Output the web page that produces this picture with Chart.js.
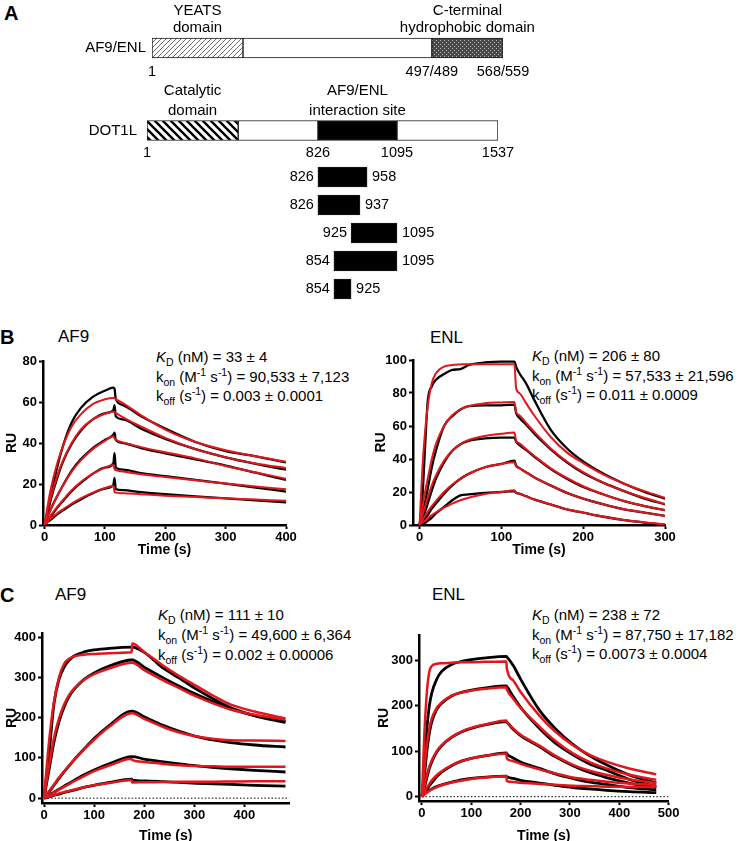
<!DOCTYPE html>
<html>
<head>
<meta charset="utf-8">
<script src="https://cdn.jsdelivr.net/npm/chart.js@4.4.1/dist/chart.umd.min.js"></script>
<style>
  body { margin: 0; width: 745px; height: 841px; position: relative; overflow: hidden; background: #fff;
         font-family: "Liberation Sans", Arial, sans-serif; color: #000; }
  canvas { position: absolute; }
  .t { position: absolute; white-space: nowrap; line-height: 20px; font-size: 15px; }
  .t sub, .t sup { font-size: 10.5px; line-height: 0; }
  .big { font-size: 17px; }
  .lt { font-size: 20px; font-weight: bold; }
</style>
</head>
<body>

<div class="t lt" style="left:4px;top:3px">A</div>
<div class="t lt" style="left:0;top:327px">B</div>
<div class="t lt" style="left:0;top:585px">C</div>

<div class="t big" style="left:58px;top:327px">AF9</div>
<div class="t big" style="left:430px;top:328px">ENL</div>
<div class="t big" style="left:55px;top:585px">AF9</div>
<div class="t big" style="left:432px;top:585px">ENL</div>

<div class="t" style="left:156px;top:347px"><i>K</i><sub>D</sub> (nM) = 33 ± 4</div>
<div class="t" style="left:156px;top:367px">k<sub>on</sub> (M<sup>-1</sup> s<sup>-1</sup>) = 90,533 ± 7,123</div>
<div class="t" style="left:156px;top:386px">k<sub>off</sub> (s<sup>-1</sup>) = 0.003 ± 0.0001</div>

<div class="t" style="left:532px;top:346px"><i>K</i><sub>D</sub> (nM) = 206 ± 80</div>
<div class="t" style="left:532px;top:366px">k<sub>on</sub> (M<sup>-1</sup> s<sup>-1</sup>) = 57,533 ± 21,596</div>
<div class="t" style="left:532px;top:385px">k<sub>off</sub> (s<sup>-1</sup>) = 0.011 ± 0.0009</div>

<div class="t" style="left:158px;top:605px"><i>K</i><sub>D</sub> (nM) = 111 ± 10</div>
<div class="t" style="left:158px;top:625px">k<sub>on</sub> (M<sup>-1</sup> s<sup>-1</sup>) = 49,600 ± 6,364</div>
<div class="t" style="left:158px;top:645px">k<sub>off</sub> (s<sup>-1</sup>) = 0.002 ± 0.00006</div>

<div class="t" style="left:532px;top:605px"><i>K</i><sub>D</sub> (nM) = 238 ± 72</div>
<div class="t" style="left:532px;top:625px">k<sub>on</sub> (M<sup>-1</sup> s<sup>-1</sup>) = 87,750 ± 17,182</div>
<div class="t" style="left:532px;top:644px">k<sub>off</sub> (s<sup>-1</sup>) = 0.0073 ± 0.0004</div>

<canvas id="a1" width="745" height="90" style="left:0;top:0"></canvas>
<canvas id="a2" width="745" height="90" style="left:0;top:78px"></canvas>
<canvas id="a3" width="745" height="150" style="left:0;top:160px"></canvas>
<canvas id="bAf9" width="300" height="227" style="left:0;top:335px"></canvas>
<canvas id="bEnl" width="311" height="227" style="left:369px;top:335px"></canvas>
<canvas id="cAf9" width="310" height="233" style="left:0;top:612px"></canvas>
<canvas id="cEnl" width="311" height="233" style="left:372px;top:612px"></canvas>

<script>
// ---- panel A: domain maps ----
// the schematic is not drawn to scale, so box edges are read off where they sit on each ruler;
// the residue numbers printed under them are kept as label text
const af9Segments = [[1, 148], [148, 453], [453, 568]];
const af9DomainNames = [['YEATS', 'domain'], null, ['C-terminal', 'hydrophobic domain']];
const af9Marks = [1, 453, 568];
const af9MarkLabels = ['1', '497/489', '568/559'];

const dot1lSegments = [[1, 400], [400, 749], [749, 1095], [1095, 1537]];
const dot1lDomainNames = [['Catalytic', 'domain'], null, ['AF9/ENL', 'interaction site'], null];
const dot1lMarks = [1, 749, 1095, 1537];
const dot1lMarkLabels = ['1', '826', '1095', '1537'];

const fragStart = [749, 749, 894, 819, 819];
const fragEnd = [964, 933, 1095, 1095, 894];
const fragStartLabels = ['826', '826', '925', '854', '854'];
const fragEndLabels = ['958', '937', '1095', '1095', '925'];

// ---- panel B, AF9 ----
const bAf9Time = [0, 5, 10, 20, 30, 45, 60, 80, 100, 114, 116, 118, 130, 160, 200, 250, 300, 350, 400];
const bAf9Fit1 = [0, 9, 17, 29, 38, 48, 54, 59, 61.3, 62, 61.9, 61.4, 59.5, 53.5, 46.5, 40.5, 36.5, 33.5, 30.8];
const bAf9Fit2 = [0, 7, 13, 23, 31, 40, 46.5, 51.5, 54.3, 55.3, 55.1, 54.7, 52.5, 48, 42.5, 37, 33, 30, 27.8];
const bAf9Fit3 = [0, 4, 7.5, 13.5, 19, 26, 31.5, 37, 41, 43.3, 42.3, 41.6, 40.3, 38, 35.5, 32.5, 28.8, 25.6, 22.6];
const bAf9Fit4 = [0, 2.5, 4.5, 8.5, 12, 17, 21, 25, 28, 29.3, 27.2, 26.8, 26.1, 24.8, 23.4, 21.8, 20.2, 18.8, 17.4];
const bAf9Fit5 = [0, 1.5, 3, 5.5, 7.5, 10.5, 13, 15.8, 18, 19.2, 16.2, 15.8, 15.5, 15, 14.3, 13.6, 13, 12.4, 11.8];
const bAf9Raw1 = [0, 6, 13, 27, 38, 50, 57, 62.5, 65.5, 67, 66.5, 61.5, 58.5, 53, 47, 40.5, 36, 33.5, 30.5];
const bAf9Raw2 = [0, 6, 12, 22, 30.5, 39.5, 46, 51.5, 54.5, 56, 58.5, 53, 51.5, 47, 42, 37, 33, 29.8, 27];
const bAf9Raw3 = [0, 4, 7.5, 13.5, 19, 26.5, 32, 37.5, 41.5, 44, 45, 41.5, 40, 37.5, 35, 32, 29, 25.5, 22];
const bAf9Raw4 = [0, 2, 4, 8, 11.5, 16.5, 20.5, 25, 28, 30, 35, 28, 27, 25.3, 23.8, 22, 20.2, 18.3, 16.3];
const bAf9Raw5 = [0, 1.5, 2.5, 5, 7, 10, 12.5, 15.5, 17.8, 19.5, 23, 17.5, 17, 16, 15, 14, 13, 12, 11];
const bAf9XTicks = [0, 100, 200, 300, 400];
const bAf9YTicks = [0, 20, 40, 60, 80];

// ---- panel B, ENL ----
const bEnlTime = [0, 3, 6, 10, 15, 20, 30, 40, 50, 60, 80, 100, 116, 118, 122, 130, 140, 160, 180, 200, 225, 250, 275, 300];
const bEnlFit1 = [0, 30, 52, 72, 86, 92, 96, 97, 97.3, 97.5, 97.5, 97.5, 97.5, 83, 80, 74, 66.5, 53.5, 44, 37.5, 30.5, 25, 20.5, 16.5];
const bEnlFit2 = [0, 9, 18, 28, 40, 49, 60, 66.5, 70, 72, 73.8, 74.3, 74.6, 68.5, 66.5, 62, 56.5, 46.5, 38.5, 32, 25.5, 20.5, 16.5, 12.7];
const bEnlFit3 = [0, 5, 10, 16.5, 24, 30, 39, 45, 49, 51.5, 54, 55.3, 56, 51, 49.5, 46, 42, 34.5, 28.5, 23.5, 18.5, 14.5, 11.5, 9];
const bEnlFit4 = [0, 2.5, 5, 8, 11.5, 14.5, 20, 24.5, 28, 31, 35, 37, 38, 35.5, 34.5, 32, 29, 24, 19.5, 16, 12.5, 9.5, 7.5, 5.5];
const bEnlFit5 = [0, 1.5, 2.5, 4, 6, 7.5, 10.5, 13, 15, 16.5, 18.8, 20, 21, 19.5, 19, 17.5, 15.5, 12.5, 9.5, 7.5, 5, 3, 1.5, 0.5];
const bEnlRaw1 = [0, 12, 40, 75, 84, 88, 91.5, 94, 94.5, 97, 98.5, 99, 99, 96, 92, 86, 76, 58, 46.5, 38.5, 31, 25, 20, 16];
const bEnlRaw2 = [0, 5, 12, 22, 35, 45, 60, 66, 70, 72, 72.5, 72.5, 73, 68, 65, 61, 55.5, 46, 38, 31.5, 25.5, 20.5, 16, 12.5];
const bEnlRaw3 = [0, 3, 7, 13, 21, 28, 38, 45, 49, 51, 52.5, 53, 53, 50.5, 48.5, 45.5, 41.5, 34, 28, 23, 18.5, 14.5, 11.5, 9];
const bEnlRaw4 = [0, 1.5, 3.5, 6, 10, 13, 19, 24, 28, 31, 35, 37, 39, 36, 34.5, 32, 29, 24, 19.5, 16, 12.5, 9.5, 7.5, 5.5];
const bEnlRaw5 = [0, 0, 1, 2.5, 4.5, 7, 11, 15, 18, 18.5, 19.5, 20, 20.5, 19.5, 19, 17.5, 15.5, 12.5, 9.5, 7.5, 5, 3, 1.5, 0];
const bEnlXTicks = [0, 100, 200, 300];
const bEnlYTicks = [0, 20, 40, 60, 80, 100];

// ---- panel C, AF9 ----
const cAf9Time = [0, 10, 20, 30, 40, 50, 60, 80, 100, 130, 175, 176, 200, 239, 270, 305, 340, 372, 420, 482];
const cAf9Fit1 = [0, 140, 240, 300, 333, 346, 352, 356, 358, 360, 362, 384, 363, 328, 303, 278, 253, 233, 215, 198];
const cAf9Fit2 = [0, 80, 150, 198, 232, 256, 272, 294, 308, 322, 336, 336, 318, 292, 273, 252, 234, 220, 207, 195];
const cAf9Fit3 = [0, 17, 34, 51, 66, 81, 95, 121, 145, 177, 211, 211, 197, 176, 163, 153, 147, 144, 143, 142];
const cAf9Fit4 = [0, 7, 14, 21, 28, 35, 42, 55, 67, 81, 98, 95, 90, 85, 82, 80, 79, 78, 78, 78];
const cAf9Fit5 = [0, 4, 8, 11.5, 15, 18, 21, 27, 32, 37.5, 45, 39, 39.5, 40, 40.5, 41, 41, 41.5, 42, 42];
const cAf9Raw1 = [0, 110, 235, 295, 325, 342, 353, 363, 368, 372, 375, 375, 362, 322, 298, 270, 245, 225, 205, 188];
const cAf9Raw2 = [0, 70, 140, 190, 226, 252, 270, 295, 311, 328, 343, 343, 325, 298, 278, 257, 238, 222, 205, 190];
const cAf9Raw3 = [0, 15, 32, 49, 65, 80, 95, 122, 148, 180, 216, 216, 202, 180, 166, 153, 144, 138, 132, 127];
const cAf9Raw4 = [0, 7, 15, 22, 30, 37, 44, 58, 70, 85, 103, 103, 97, 90, 85, 80, 76, 73, 69, 65];
const cAf9Raw5 = [0, 3, 7, 10, 14, 17, 20, 27, 32, 39, 47, 45, 43, 41, 39, 37, 35.5, 34, 32, 30];
const cAf9XTicks = [0, 100, 200, 300, 400];
const cAf9YTicks = [0, 100, 200, 300, 400];

// ---- panel C, ENL ----
const cEnlTime = [0, 5, 10, 15, 20, 30, 40, 60, 80, 100, 130, 171, 172, 185, 200, 238, 270, 306, 340, 374, 420, 475];
const cEnlFit1 = [0, 140, 230, 275, 287, 292, 293, 294, 295, 295, 296, 297, 282, 255, 230, 178, 143, 113, 92, 77, 62, 49];
const cEnlFit2 = [0, 60, 115, 150, 172, 195, 207, 222, 229, 233, 237, 240, 236, 215, 195, 154, 123, 95, 76, 62, 48, 37];
const cEnlFit3 = [0, 25, 48, 66, 80, 100, 113, 131, 143, 151, 159, 167, 164, 150, 136, 112, 90, 70, 57, 48, 38, 30];
const cEnlFit4 = [0, 10, 20, 28, 36, 47, 56, 69, 78, 84, 90, 95, 84, 78, 72, 60, 51, 42, 37, 33, 29, 26];
const cEnlFit5 = [0, 5, 9, 13, 16, 21, 25, 31, 35, 39, 42, 45, 34, 32, 30.5, 28, 26, 24, 23, 22, 21.5, 21];
const cEnlRaw1 = [0, 60, 150, 200, 228, 258, 275, 290, 297, 301, 305, 308, 307, 288, 258, 190, 150, 115, 90, 70, 48, 30];
const cEnlRaw2 = [0, 45, 100, 140, 165, 192, 205, 221, 229, 234, 239, 243, 242, 220, 196, 150, 118, 92, 72, 58, 38, 22];
const cEnlRaw3 = [0, 20, 42, 62, 77, 98, 112, 130, 142, 150, 158, 165, 164, 148, 134, 110, 88, 68, 53, 42, 30, 20];
const cEnlRaw4 = [0, 8, 16, 24, 31, 44, 54, 68, 78, 84, 90, 96, 94, 85, 76, 62, 50, 40, 32, 27, 20, 15];
const cEnlRaw5 = [0, 6, 10, 14, 17, 22, 26, 32, 37, 40, 43, 45, 44, 40, 36, 30, 25, 20, 17, 14, 11, 9];
const cEnlXTicks = [0, 100, 200, 300, 400, 500];
const cEnlYTicks = [0, 100, 200, 300];

const FIT_RED = '#e3161c';
const plain = '"Liberation Sans", Arial, sans-serif';
Chart.defaults.font.family = plain;

// fill patterns for the domain boxes
function pattern(id, size, paint) {
  const tile = document.createElement('canvas');
  tile.width = size; tile.height = size;
  const g = tile.getContext('2d');
  paint(g, size);
  return document.getElementById(id).getContext('2d').createPattern(tile, 'repeat');
}
function fineHatch(id) {
  return pattern(id, 5, (g, s) => {
    g.fillStyle = '#fff'; g.fillRect(0, 0, s, s);
    g.strokeStyle = '#6a6a6a'; g.lineWidth = 1;
    g.beginPath();
    g.moveTo(0, s); g.lineTo(s, 0);
    g.moveTo(-1, 1); g.lineTo(1, -1);
    g.moveTo(s - 1, s + 1); g.lineTo(s + 1, s - 1);
    g.stroke();
  });
}
function boldHatch(id) {
  return pattern(id, 8, (g, s) => {
    g.fillStyle = '#fff'; g.fillRect(0, 0, s, s);
    g.strokeStyle = '#000'; g.lineWidth = 2.4;
    g.beginPath();
    g.moveTo(0, 0); g.lineTo(s, s);
    g.moveTo(-3, s - 3); g.lineTo(3, s + 3);
    g.moveTo(s - 3, -3); g.lineTo(s + 3, 3);
    g.stroke();
  });
}
function dotted(id) {
  return pattern(id, 4, (g, s) => {
    g.fillStyle = '#4a4a4a'; g.fillRect(0, 0, s, s);
    g.fillStyle = '#b5b5b5';
    g.fillRect(0, 0, 1, 1); g.fillRect(2, 2, 1, 1);
  });
}

function segBar(seg, fill) {
  return {
    data: [seg], backgroundColor: fill, borderColor: '#1a1a1a', borderWidth: 1,
    borderSkipped: false, barThickness: 20, grouped: false
  };
}

function mapLabels(rowLabel, rowGap, segs, names, nameUp, marks, markLabels, markDown) {
  return {
    id: 'mapLabels',
    afterDatasetsDraw(chart) {
      const ctx = chart.ctx, x = chart.scales.x, y = chart.scales.y;
      const cy = y.getPixelForValue(0);
      ctx.save();
      ctx.fillStyle = '#000';
      ctx.font = '15px ' + plain;
      ctx.textBaseline = 'middle';
      ctx.textAlign = 'right';
      ctx.fillText(rowLabel, chart.chartArea.left - rowGap, cy);
      ctx.textAlign = 'center';
      names.forEach((n, i) => {
        if (!n) return;
        const mid = (x.getPixelForValue(segs[i][0]) + x.getPixelForValue(segs[i][1])) / 2;
        ctx.fillText(n[0], mid, cy - 10 - nameUp[0]);
        ctx.fillText(n[1], mid, cy - 10 - nameUp[1]);
      });
      ctx.font = '14.5px ' + plain;
      marks.forEach((m, i) => {
        ctx.fillText(markLabels[i], x.getPixelForValue(m), cy + 10 + markDown);
      });
      ctx.restore();
    }
  };
}

function mapOptions(xMax, pad) {
  return {
    responsive: false, animation: false, indexAxis: 'y',
    layout: { padding: pad },
    plugins: { legend: { display: false }, tooltip: { enabled: false } },
    scales: {
      x: { type: 'linear', min: 1, max: xMax, display: false },
      y: { display: false }
    }
  };
}

new Chart(document.getElementById('a1'), {
  type: 'bar',
  data: {
    labels: ['AF9/ENL'],
    datasets: [
      segBar(af9Segments[0], fineHatch('a1')),
      segBar(af9Segments[1], '#fff'),
      segBar(af9Segments[2], dotted('a1'))
    ]
  },
  options: mapOptions(568, { left: 152, right: 242, top: 28, bottom: 22 }),
  plugins: [mapLabels('AF9/ENL', 6, af9Segments, af9DomainNames, [27, 10], af9Marks, af9MarkLabels, 14)]
});

new Chart(document.getElementById('a2'), {
  type: 'bar',
  data: {
    labels: ['DOT1L'],
    datasets: [
      segBar(dot1lSegments[0], boldHatch('a2')),
      segBar(dot1lSegments[1], '#fff'),
      segBar(dot1lSegments[2], '#000'),
      segBar(dot1lSegments[3], '#fff')
    ]
  },
  options: mapOptions(1537, { left: 147, right: 247, top: 33, bottom: 18 }),
  plugins: [mapLabels('DOT1L', 10, dot1lSegments, dot1lDomainNames, [30, 10], dot1lMarks, dot1lMarkLabels, 12.5)]
});

new Chart(document.getElementById('a3'), {
  type: 'bar',
  data: {
    labels: fragStartLabels.map((s, i) => s + '-' + fragEndLabels[i]),
    datasets: [{
      data: fragStart.map((s, i) => [s, fragEnd[i]]),
      backgroundColor: '#000', borderColor: '#1a1a1a', borderWidth: 1,
      borderSkipped: false, barThickness: 20
    }]
  },
  options: mapOptions(1537, { left: 147, right: 247, top: 3, bottom: 7 }),
  plugins: [{
    id: 'fragLabels',
    afterDatasetsDraw(chart) {
      const ctx = chart.ctx, x = chart.scales.x, y = chart.scales.y;
      ctx.save();
      ctx.fillStyle = '#000';
      ctx.font = '14.5px ' + plain;
      ctx.textBaseline = 'middle';
      fragStart.forEach((s, i) => {
        const cy = y.getPixelForValue(i);
        ctx.textAlign = 'right';
        ctx.fillText(fragStartLabels[i], x.getPixelForValue(s) - 4, cy);
        ctx.textAlign = 'left';
        ctx.fillText(fragEndLabels[i], x.getPixelForValue(fragEnd[i]) + 5, cy);
      });
      ctx.restore();
    }
  }]
});

// ---- SPR sensorgrams ----
function pts(times, vals) {
  return times.map((t, i) => ({ x: t, y: vals[i] }));
}

function spr(id, box, times, fits, raws, xr, yr, xTicks, yTicks, lw, zeroLine) {
  const datasets = [];
  fits.forEach(f => datasets.push({ data: pts(times, f), borderColor: FIT_RED, borderWidth: lw }));
  raws.forEach(r => datasets.push({ data: pts(times, r), borderColor: '#000', borderWidth: lw + 0.3 }));
  if (zeroLine) {
    datasets.push({
      data: [{ x: 0, y: 0 }, { x: xr[1], y: 0 }],
      borderColor: '#000', borderWidth: 1, borderDash: [1.5, 2], cubicInterpolationMode: 'default'
    });
  }
  const axisCommon = {
    grid: { drawOnChartArea: false, drawTicks: true, tickLength: 4, tickWidth: 2, tickColor: '#000' },
    border: { display: true, color: '#000', width: 2.5 },
    ticks: { color: '#000', font: { family: plain, size: 13, weight: 'bold' }, maxRotation: 0, autoSkip: false }
  };
  new Chart(document.getElementById(id), {
    type: 'line',
    data: { datasets },
    options: {
      responsive: false, animation: false,
      layout: { padding: { top: box.areaT - box.top, right: box.left + box.w - box.areaR, left: 0, bottom: 0 } },
      plugins: { legend: { display: false }, tooltip: { enabled: false } },
      elements: { point: { radius: 0 }, line: { cubicInterpolationMode: 'monotone', tension: 0.4 } },
      scales: {
        x: Object.assign({}, axisCommon, {
          type: 'linear', min: xr[0], max: xr[1],
          ticks: Object.assign({}, axisCommon.ticks, { padding: 1 }),
          afterBuildTicks: s => { s.ticks = xTicks.map(v => ({ value: v })); },
          afterFit: s => { s.height = box.top + box.h - box.areaB; },
          title: { display: true, text: 'Time (s)', color: '#000',
                   font: { family: plain, size: 14, weight: 'bold' }, padding: { top: 0, bottom: box.titlePad } }
        }),
        y: Object.assign({}, axisCommon, {
          type: 'linear', min: yr[0], max: yr[1],
          ticks: Object.assign({}, axisCommon.ticks, { padding: 2 }),
          afterBuildTicks: s => { s.ticks = yTicks.map(v => ({ value: v })); },
          afterFit: s => { s.width = box.areaL - box.left; },
          title: { display: true, text: 'RU', color: '#000',
                   font: { family: plain, size: 14, weight: 'bold' }, padding: { top: 4, bottom: 0 } }
        })
      }
    }
  });
}

spr('bAf9', { left: 0, top: 335, w: 300, h: 227, areaL: 43, areaR: 286, areaT: 361, areaB: 525, titlePad: 3 },
    bAf9Time, [bAf9Fit1, bAf9Fit2, bAf9Fit3, bAf9Fit4, bAf9Fit5],
    [bAf9Raw1, bAf9Raw2, bAf9Raw3, bAf9Raw4, bAf9Raw5],
    [-2.5, 400], [0, 80], bAf9XTicks, bAf9YTicks, 2, false);

spr('bEnl', { left: 369, top: 335, w: 311, h: 227, areaL: 413, areaR: 665, areaT: 360, areaB: 525, titlePad: 3 },
    bEnlTime, [bEnlFit1, bEnlFit2, bEnlFit3, bEnlFit4, bEnlFit5],
    [bEnlRaw1, bEnlRaw2, bEnlRaw3, bEnlRaw4, bEnlRaw5],
    [-8, 300], [0, 100], bEnlXTicks, bEnlYTicks, 2, false);

spr('cAf9', { left: 0, top: 612, w: 310, h: 233, areaL: 42, areaR: 289.5, areaT: 633, areaB: 803, titlePad: 0 },
    cAf9Time, [cAf9Fit1, cAf9Fit2, cAf9Fit3, cAf9Fit4, cAf9Fit5],
    [cAf9Raw1, cAf9Raw2, cAf9Raw3, cAf9Raw4, cAf9Raw5],
    [-4, 490], [-12, 410], cAf9XTicks, cAf9YTicks, 2.5, true);

spr('cEnl', { left: 372, top: 612, w: 311, h: 233, areaL: 419, areaR: 668.6, areaT: 635, areaB: 801, titlePad: 0 },
    cEnlTime, [cEnlFit1, cEnlFit2, cEnlFit3, cEnlFit4, cEnlFit5],
    [cEnlRaw1, cEnlRaw2, cEnlRaw3, cEnlRaw4, cEnlRaw5],
    [-6, 500], [-9.5, 355], cEnlXTicks, cEnlYTicks, 2.5, true);
</script>
</body>
</html>
